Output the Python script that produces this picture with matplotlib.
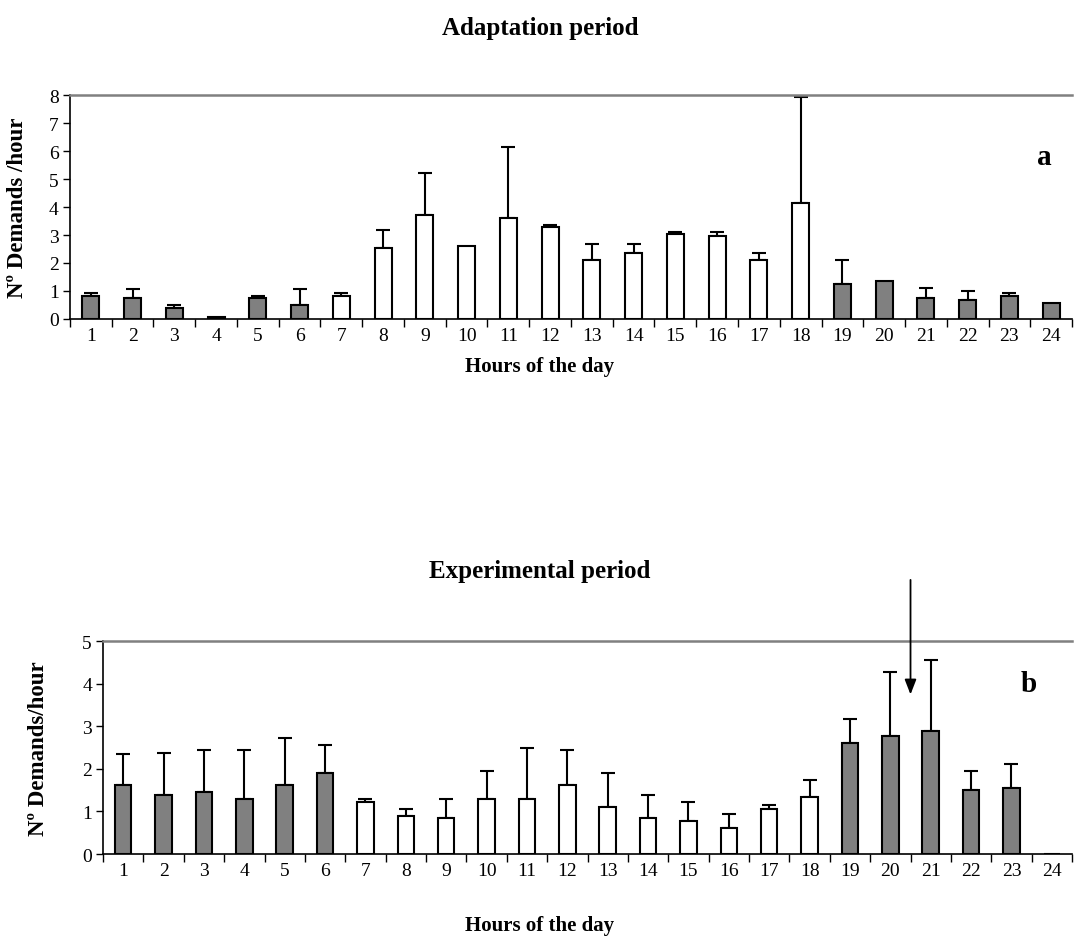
import numpy as np
import matplotlib
matplotlib.use("Agg")
import matplotlib.pyplot as plt

plt.rcParams['font.family'] = ['Liberation Serif', 'DejaVu Serif']

hours = list(range(1, 25))

# adaptation period (panel a)
adapt_mean = [0.83, 0.75, 0.40, 0.07, 0.75, 0.50, 0.83, 2.52, 3.71, 2.62, 3.61, 3.29,
              2.10, 2.35, 3.03, 2.95, 2.10, 4.13, 1.26, 1.36, 0.76, 0.68, 0.83, 0.57]
adapt_top = [0.93, 1.08, 0.50, 0.07, 0.83, 1.08, 0.93, 3.19, 5.22, 2.62, 6.15, 3.36,
             2.69, 2.69, 3.10, 3.10, 2.35, 7.92, 2.10, 1.36, 1.09, 1.00, 0.93, 0.57]
adapt_dark = [True] * 6 + [False] * 12 + [True] * 6

# experimental period (panel b)
exp_mean = [1.62, 1.39, 1.45, 1.28, 1.62, 1.90, 1.23, 0.89, 0.84, 1.28, 1.28, 1.61,
            1.11, 0.84, 0.78, 0.62, 1.06, 1.34, 2.61, 2.77, 2.88, 1.50, 1.55, 0.01]
exp_top = [2.34, 2.38, 2.44, 2.44, 2.72, 2.55, 1.28, 1.06, 1.28, 1.95, 2.49, 2.44,
           1.90, 1.38, 1.22, 0.94, 1.16, 1.73, 3.16, 4.27, 4.55, 1.95, 2.12, 0.01]
exp_dark = [True] * 6 + [False] * 12 + [True] * 6

fig = plt.figure(figsize=(10.8, 9.37), dpi=100)


def panel(rect, means, tops, dark, ymax, ylabel, letter, letter_xy, title, title_y, xlab_y):
    ax = fig.add_axes(rect)
    x = np.array(hours)
    means = np.array(means)
    err = np.array(tops) - means
    colors = ['#808080' if d else 'white' for d in dark]
    ax.bar(x, means, width=0.41, color=colors, edgecolor='black', linewidth=1.5, zorder=2)
    mask = err > 0.001
    ax.errorbar(x[mask], means[mask], yerr=[np.zeros(mask.sum()), err[mask]], fmt='none',
                ecolor='black', elinewidth=1.5, capsize=5, capthick=1.5, zorder=1)
    ax.set_xlim(0.5, 24.5)
    ax.set_ylim(0, ymax)
    ax.set_yticks(range(0, ymax + 1))
    ax.set_xticks(x)
    ax.set_xticklabels([str(h) for h in hours], fontsize=14)
    ax.set_xticks(np.arange(0.5, 25, 1), minor=True)
    ax.tick_params(axis='x', which='major', length=0, pad=6)
    ax.tick_params(axis='x', which='minor', length=6, width=1, direction='out')
    ax.tick_params(axis='y', labelsize=14, length=5, width=1, direction='out', pad=3)
    ax.spines['right'].set_visible(False)
    ax.spines['top'].set_color('#808080')
    ax.spines['top'].set_linewidth(1.8)
    ax.spines['left'].set_linewidth(1.2)
    ax.spines['bottom'].set_linewidth(1.2)
    ax.set_ylabel(ylabel, fontsize=16.5, fontweight='bold')
    ax.text(letter_xy[0], letter_xy[1], letter, transform=ax.transAxes, fontsize=21,
            fontweight='bold', ha='center', va='center')
    fig.text(0.5, title_y, title, fontsize=18, fontweight='bold', ha='center', va='center')
    fig.text(0.5, xlab_y, 'Hours of the day', fontsize=15, fontweight='bold',
             ha='center', va='center')
    return ax


ax1 = panel([0.0648, 0.6585, 0.9278, 0.239], adapt_mean, adapt_top, adapt_dark, 8,
            'Nº Demands /hour', 'a', (0.972, 0.725), 'Adaptation period',
            1 - 28 / 937, 1 - 367 / 937)
ax1.yaxis.set_label_coords(-0.042, 0.5)

ax2 = panel([0.0954, 0.0875, 0.8972, 0.2273], exp_mean, exp_top, exp_dark, 5,
            'Nº Demands/hour', 'b', (0.955, 0.8), 'Experimental period',
            1 - 572 / 937, 1 - 926 / 937)
ax2.yaxis.set_label_coords(-0.056, 0.5)

# arrow between hours 20 and 21
ax2.annotate('', xy=(20.5, 3.68), xytext=(20.5, 6.5),
             arrowprops=dict(arrowstyle='-|>,head_length=0.9,head_width=0.35',
                             color='black', lw=1.3), annotation_clip=False)

fig.savefig('out.png', dpi=100)
